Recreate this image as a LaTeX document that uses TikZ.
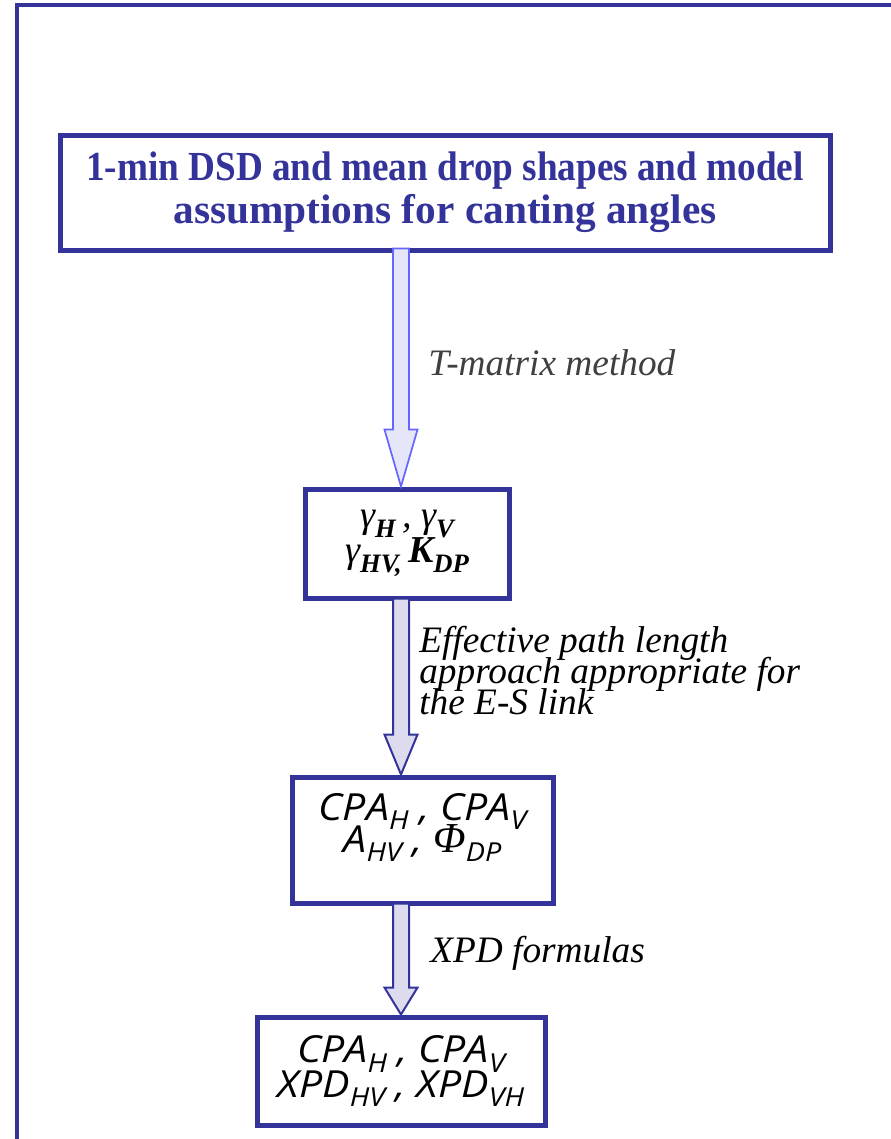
\documentclass[tikz,border=0pt]{standalone}
\usepackage{fontspec}
\setmainfont{Liberation Serif}
\newfontfamily\titlefont{Liberation Serif}[FakeStretch=0.9]
\newfontfamily\labelsans{Open Sans}[FakeStretch=1.1]
\usetikzlibrary{calc}

\definecolor{frameblue}{HTML}{333399}
\definecolor{edgelight}{HTML}{6666FF}
\definecolor{filllight}{HTML}{E6E6FA}
\definecolor{fillgrey}{HTML}{DCDCEE}
\definecolor{notegray}{HTML}{404040}

% small lowered index, set in the running font
\newcommand\lsub[1]{\raisebox{-0.26em}{\scalebox{0.7}{#1}}}
% fixed line pitch, even where lines would touch
\newcommand\tightlines{\lineskiplimit=-100pt\relax}

% block arrow: style, start point, tip point, head length
\newcommand\flowarrow[4]{%
  \draw[#1] let \p1=(#2), \p2=(#3) in
    (\x1-6pt,\y1) -- (\x1-6pt,\y2+#4) -- (\x1-12.4pt,\y2+#4) -- (\x2,\y2)
    -- (\x1+12.4pt,\y2+#4) -- (\x1+6pt,\y2+#4) -- (\x1+6pt,\y1) -- cycle;}

\tikzset{
  stagebox/.style={draw=frameblue, line width=3.75pt, fill=white,
    align=center, inner sep=0pt},
  note/.style={anchor=base west, inner sep=0pt, font=\itshape\fontsize{28pt}{28pt}\selectfont},
  arrowsoft/.style={draw=edgelight, fill=filllight, line width=1.3pt, line join=miter},
  arrowdark/.style={draw=frameblue, fill=fillgrey, line width=1.5pt, line join=miter},
}

\begin{document}
\begin{tikzpicture}[x=0.75pt,y=-0.75pt]
\useasboundingbox (0,0) rectangle (891,1139);

% outer frame (only its top and left sides fall inside the page)
\draw[frameblue, line width=3pt] (17,1160) -- (17,4.5) -- (910,4.5);

% stage boxes
\node[stagebox, minimum width=577.5pt, minimum height=86.25pt,
      text=frameblue, font=\bfseries\fontsize{31pt}{32.5pt}\selectfont]
  (inputs) at (445,192.5)
  {{\titlefont 1-min DSD and mean drop shapes and model}\\assumptions for canting angles};

\node[stagebox, minimum width=153pt, minimum height=81.75pt,
      font=\itshape\fontsize{28.5pt}{26.5pt}\selectfont\tightlines]
  (coeffs) at (407,543.5)
  {γ\lsub{\bfseries H}\,, γ\lsub{\bfseries V}\\
   γ\lsub{\bfseries HV,}\,\textbf{K}\lsub{\bfseries DP}};

\node[stagebox, minimum width=195.75pt, minimum height=94.5pt,
      font=\labelsans\itshape\fontsize{28pt}{24pt}\selectfont\tightlines]
  (cpa) at (422.5,840)
  {CPA\lsub{H}\ , CPA\lsub{V}\\
   A\lsub{HV}\ ,\ {\rmfamily\fontsize{32pt}{24pt}\selectfont Φ}\lsub{DP}\\[2pt]\mbox{}};

\node[stagebox, minimum width=216pt, minimum height=81pt,
      font=\labelsans\itshape\fontsize{28pt}{26pt}\selectfont\tightlines]
  (xpd) at (401,1071)
  {CPA\lsub{H}\ , CPA\lsub{V}\\
   XPD\lsub{HV}\ , XPD\lsub{VH}};

% arrow axis
\coordinate (ax) at (401,0);

% connectors
\flowarrow{arrowsoft}{$(inputs.south -| ax)+(0,-4)$}{coeffs.north -| ax}{42.75pt}
\flowarrow{arrowdark}{$(coeffs.south -| ax)+(0,-2)$}{cpa.north -| ax}{30pt}
\flowarrow{arrowdark}{$(cpa.south -| ax)+(0,-2)$}{xpd.north -| ax}{20.25pt}

% connector notes
\node[note, text=notegray] (tmatrix) at (428,375) {T-matrix method};
\node[note, anchor=north west, align=left,
      font=\itshape\fontsize{28pt}{23.3pt}\selectfont\tightlines] (pathlen) at (419,626)
  {Effective path length\\approach appropriate for\\the E-S link};
\node[note] (formulas) at (430,962) {XPD formulas};
\end{tikzpicture}
\end{document}
